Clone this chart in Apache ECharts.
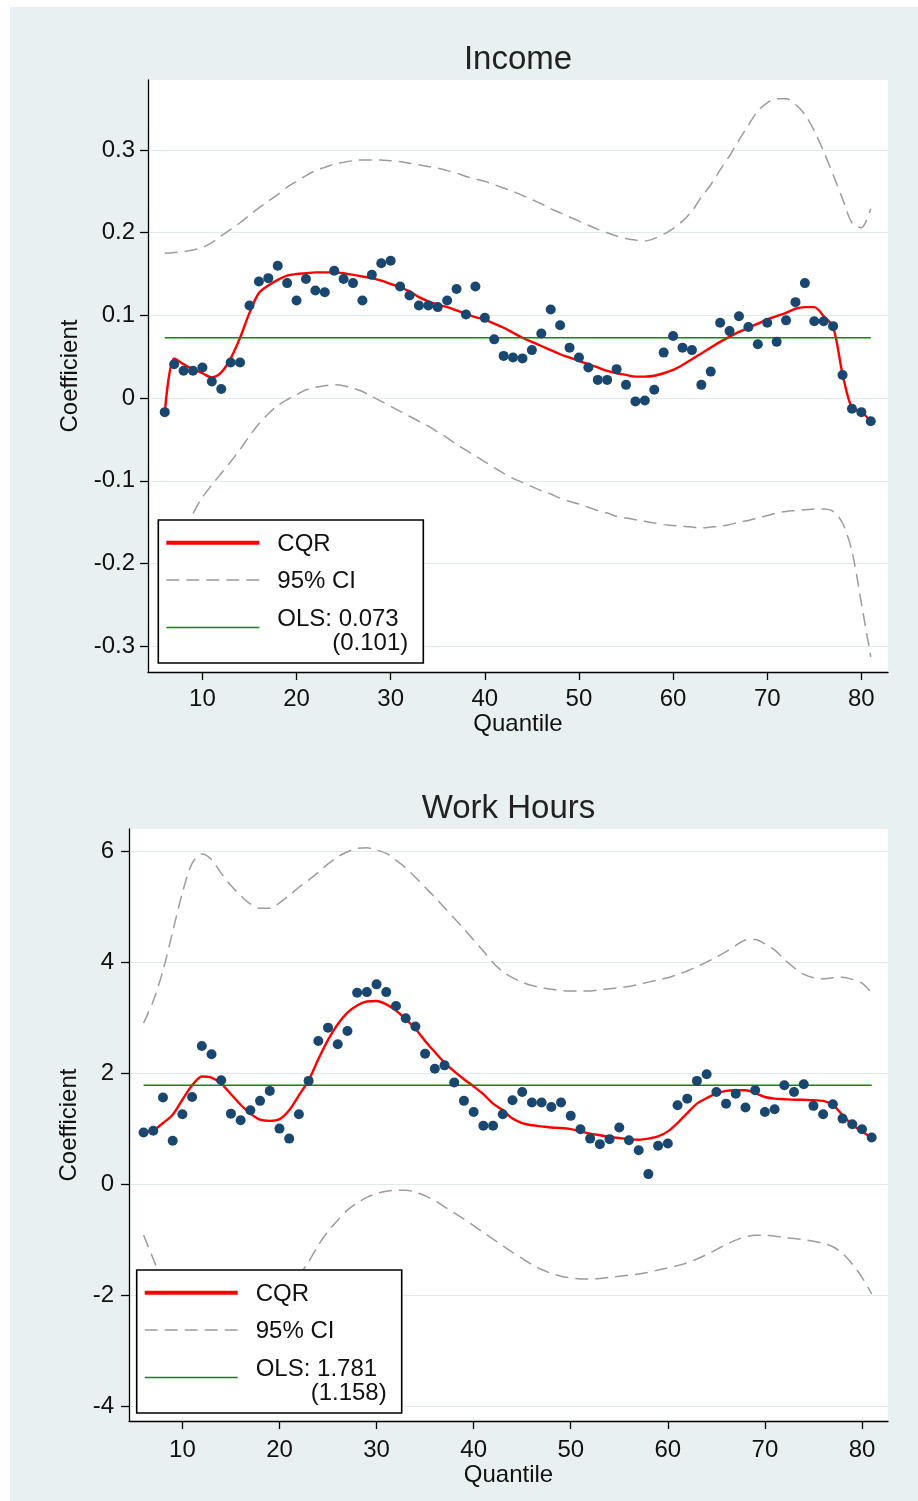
<!DOCTYPE html>
<html><head><meta charset="utf-8">
<script src="https://cdn.jsdelivr.net/npm/echarts@6/dist/echarts.min.js"></script>
<style>
html,body{margin:0;padding:0;background:#fff;}
#panel{position:absolute;left:10px;top:7px;width:908px;height:1494px;background:#E8F0F2;}
#chart{position:absolute;left:0;top:0;width:918px;height:1501px;}
</style></head><body>
<div id="panel"></div><div id="chart"></div>
<script>
// ---------- data ----------
const quantiles = [6,7,8,9,10,11,12,13,14,15,16,17,18,19,20,21,22,23,24,25,26,27,28,29,30,31,32,33,34,35,36,37,38,39,40,41,42,43,44,45,46,47,48,49,50,51,52,53,54,55,56,57,58,59,60,61,62,63,64,65,66,67,68,69,70,71,72,73,74,75,76,77,78,79,80,81];
const xTicks = [10,20,30,40,50,60,70,80];

const incomeTitle = 'Income';
const incomeYTicks = [-0.3,-0.2,-0.1,0,0.1,0.2,0.3];
const incomeOLS = 0.073;
const incomeOLSLabel = 'OLS: 0.073';
const incomeOLSSe = '(0.101)';
const incomeCoef = [
 -0.017,0.041,0.033,0.033,0.037,0.020,0.011,0.043,0.043,0.112,
 0.141,0.145,0.160,0.139,0.118,0.144,0.130,0.128,0.154,0.144,
 0.139,0.118,0.149,0.163,0.166,0.135,0.124,0.112,0.112,0.110,
 0.118,0.132,0.101,0.135,0.097,0.071,0.051,0.049,0.048,0.058,
 0.078,0.107,0.088,0.061,0.049,0.037,0.022,0.022,0.035,0.016,
 -0.004,-0.003,0.010,0.055,0.075,0.061,0.058,0.016,0.032,0.091,
 0.081,0.099,0.086,0.065,0.091,0.068,0.094,0.116,0.139,0.093,
 0.093,0.087,0.028,-0.013,-0.017,-0.028];
const incomeCQR = [
 -0.018,0.048,0.041,0.035,0.030,0.025,0.031,0.048,0.073,0.103,
 0.127,0.136,0.143,0.148,0.150,0.151,0.152,0.152,0.152,0.151,
 0.149,0.147,0.145,0.142,0.138,0.134,0.129,0.122,0.117,0.113,
 0.110,0.106,0.102,0.098,0.095,0.090,0.085,0.079,0.073,0.068,
 0.063,0.058,0.053,0.049,0.045,0.041,0.037,0.033,0.030,0.028,
 0.026,0.026,0.027,0.030,0.034,0.040,0.047,0.054,0.061,0.068,
 0.074,0.080,0.085,0.090,0.095,0.099,0.103,0.108,0.110,0.110,
 0.099,0.086,0.029,-0.012,-0.017,-0.028];
const incomeUpper = [
 0.175,0.176,0.177,0.179,0.182,0.188,0.196,0.204,0.212,0.221,
 0.230,0.238,0.246,0.255,0.262,0.269,0.275,0.279,0.283,0.285,
 0.287,0.288,0.288,0.288,0.287,0.286,0.284,0.282,0.280,0.278,
 0.275,0.272,0.268,0.265,0.262,0.258,0.254,0.250,0.245,0.240,
 0.235,0.229,0.224,0.219,0.214,0.209,0.204,0.200,0.196,0.193,
 0.191,0.190,0.193,0.198,0.205,0.214,0.226,0.243,0.258,0.276,
 0.293,0.312,0.330,0.347,0.357,0.362,0.362,0.355,0.343,0.323,
 0.298,0.270,0.241,0.212,0.206,0.229];
const incomeLower = [
 -0.230,-0.200,-0.170,-0.140,-0.120,-0.105,-0.091,-0.077,-0.062,-0.046,
 -0.031,-0.019,-0.009,-0.002,0.004,0.010,0.013,0.015,0.016,0.015,
 0.012,0.008,0.002,-0.004,-0.010,-0.016,-0.022,-0.028,-0.034,-0.041,
 -0.048,-0.056,-0.063,-0.070,-0.077,-0.084,-0.091,-0.097,-0.102,-0.107,
 -0.112,-0.116,-0.121,-0.125,-0.128,-0.132,-0.136,-0.139,-0.143,-0.145,
 -0.147,-0.149,-0.151,-0.153,-0.154,-0.155,-0.156,-0.157,-0.156,-0.155,
 -0.153,-0.150,-0.148,-0.145,-0.142,-0.139,-0.137,-0.136,-0.135,-0.134,
 -0.134,-0.137,-0.151,-0.185,-0.248,-0.313];

const hoursTitle = 'Work Hours';
const hoursYTicks = [-4,-2,0,2,4,6];
const hoursOLS = 1.781;
const hoursOLSLabel = 'OLS: 1.781';
const hoursOLSSe = '(1.158)';
const hoursCoef = [
 0.93,0.96,1.56,0.78,1.26,1.57,2.49,2.34,1.87,1.27,
 1.15,1.33,1.50,1.68,1.00,0.82,1.26,1.86,2.58,2.82,
 2.52,2.76,3.45,3.46,3.60,3.46,3.21,2.99,2.84,2.35,
 2.08,2.14,1.83,1.50,1.30,1.05,1.05,1.26,1.51,1.66,
 1.47,1.47,1.39,1.47,1.23,0.99,0.82,0.72,0.81,1.02,
 0.79,0.61,0.18,0.69,0.73,1.42,1.54,1.86,1.98,1.66,
 1.45,1.63,1.38,1.69,1.30,1.35,1.78,1.66,1.80,1.41,
 1.26,1.44,1.18,1.08,0.99,0.84];
const hoursCQR = [
 0.93,0.97,1.10,1.25,1.52,1.78,1.94,1.92,1.81,1.62,
 1.43,1.27,1.16,1.14,1.17,1.33,1.60,1.87,2.25,2.60,
 2.88,3.09,3.22,3.29,3.30,3.24,3.13,2.97,2.80,2.58,
 2.38,2.19,2.03,1.89,1.76,1.62,1.45,1.33,1.18,1.10,
 1.06,1.04,1.02,1.01,0.99,0.95,0.91,0.88,0.85,0.83,
 0.81,0.80,0.82,0.86,0.95,1.10,1.28,1.45,1.55,1.63,
 1.68,1.69,1.69,1.64,1.57,1.54,1.53,1.52,1.52,1.51,
 1.50,1.43,1.24,1.07,0.95,0.84];
const hoursUpper = [
 2.90,3.30,3.85,4.55,5.25,5.78,5.95,5.85,5.60,5.38,
 5.20,5.05,4.97,4.97,5.07,5.20,5.35,5.48,5.62,5.77,
 5.90,5.99,6.05,6.06,6.02,5.96,5.84,5.70,5.53,5.35,
 5.17,4.98,4.79,4.60,4.40,4.20,3.99,3.83,3.72,3.64,
 3.58,3.54,3.51,3.49,3.48,3.48,3.48,3.50,3.52,3.54,
 3.56,3.60,3.64,3.68,3.72,3.78,3.84,3.92,4.00,4.09,
 4.19,4.30,4.40,4.41,4.33,4.22,4.05,3.90,3.78,3.72,
 3.70,3.72,3.73,3.69,3.62,3.45];
const hoursLower = [
 -0.92,-1.35,-1.80,-2.20,-2.50,-2.70,-2.80,-2.80,-2.75,-2.65,
 -2.55,-2.45,-2.35,-2.20,-2.05,-1.85,-1.65,-1.40,-1.10,-0.85,
 -0.65,-0.47,-0.34,-0.24,-0.17,-0.13,-0.11,-0.11,-0.15,-0.21,
 -0.30,-0.41,-0.52,-0.63,-0.75,-0.87,-0.99,-1.11,-1.23,-1.34,
 -1.45,-1.54,-1.61,-1.66,-1.69,-1.71,-1.71,-1.70,-1.68,-1.66,
 -1.64,-1.62,-1.59,-1.55,-1.51,-1.47,-1.42,-1.35,-1.27,-1.18,
 -1.09,-1.01,-0.95,-0.92,-0.92,-0.94,-0.96,-0.98,-1.00,-1.03,
 -1.07,-1.13,-1.25,-1.44,-1.68,-1.98];

const legendCQR = 'CQR';
const legendCI = '95% CI';

// ---------- styling ----------
const FONT = 'Liberation Sans, Arial, sans-serif';
const TXT = '#111';
const DOT = '#1A476F';
const RED = '#FF0000';
const GREEN = '#0A8A0A';
const GRAY = '#9C9C9C';
const GRID = '#E1EBEE';
const DASH = [13, 7];

const panels = [
  {title: incomeTitle, coef: incomeCoef, cqr: incomeCQR, up: incomeUpper, lo: incomeLower,
   ols: incomeOLS, olsLabel: incomeOLSLabel, olsSe: incomeOLSSe, yTicks: incomeYTicks,
   grid: {left:148, top:80, width:740, height:592}, xMin:4.22, xMax:82.83, yMin:-0.3312, yMax:0.3846,
   xLabelMargin:15, yLabelMargin:13, xNameGap:36, yNameGap:64, legend:{x:158.3, y:520}},
  {title: hoursTitle, coef: hoursCoef, cqr: hoursCQR, up: hoursUpper, lo: hoursLower,
   ols: hoursOLS, olsLabel: hoursOLSLabel, olsSe: hoursOLSSe, yTicks: hoursYTicks,
   grid: {left:129, top:829, width:759, height:592}, xMin:4.5, xMax:82.68, yMin:-4.27, yMax:6.40,
   xLabelMargin:17, yLabelMargin:15, xNameGap:38, yNameGap:45, legend:{x:136.7, y:1270}}
];

const pairs = arr => quantiles.map((q, i) => [q, arr[i]]);

const option = {
  animation: false,
  grid: [], xAxis: [], yAxis: [], series: [], graphic: {elements: []}
};

panels.forEach((p, k) => {
  option.grid.push(Object.assign({show:true, backgroundColor:'#fff', borderWidth:0}, p.grid));
  option.xAxis.push({
    type:'value', gridIndex:k, min:p.xMin, max:p.xMax,
    name:'Quantile', nameLocation:'middle', nameGap:p.xNameGap,
    nameTextStyle:{fontSize:24, fontFamily:FONT, color:TXT},
    axisLine:{show:true, onZero:false, lineStyle:{color:'#000', width:1.3}},
    axisTick:{show:true, length:8, customValues:xTicks, lineStyle:{color:'#000', width:1.3}},
    axisLabel:{show:true, customValues:xTicks, margin:p.xLabelMargin, fontSize:24, fontFamily:FONT, color:TXT},
    splitLine:{show:false}
  });
  option.yAxis.push({
    type:'value', gridIndex:k, min:p.yMin, max:p.yMax,
    name:'Coefficient', nameLocation:'middle', nameGap:p.yNameGap, nameRotate:90,
    nameTextStyle:{fontSize:24, fontFamily:FONT, color:TXT},
    axisLine:{show:true, onZero:false, lineStyle:{color:'#000', width:1.3}},
    axisTick:{show:true, length:8, customValues:p.yTicks, lineStyle:{color:'#000', width:1.3}},
    axisLabel:{show:true, customValues:p.yTicks, margin:p.yLabelMargin, fontSize:24, fontFamily:FONT, color:TXT},
    splitLine:{show:true, lineStyle:{color:GRID, width:1.2}}
  });
  const common = {xAxisIndex:k, yAxisIndex:k, silent:true, symbol:'none'};
  option.series.push(Object.assign({type:'line', data:pairs(p.up), smooth:0.3, z:2,
    lineStyle:{color:GRAY, width:1.5, type:DASH}}, common));
  option.series.push(Object.assign({type:'line', data:pairs(p.lo), smooth:0.3, z:2,
    lineStyle:{color:GRAY, width:1.5, type:DASH}}, common));
  option.series.push(Object.assign({type:'line', data:pairs(p.cqr), smooth:0.3, z:3,
    lineStyle:{color:RED, width:2.4}}, common));
  option.series.push(Object.assign({type:'line', z:3,
    data:[[quantiles[0], p.ols],[quantiles[quantiles.length-1], p.ols]],
    lineStyle:{color:GREEN, width:1.4}}, common));
  option.series.push({type:'scatter', xAxisIndex:k, yAxisIndex:k, silent:true, z:5,
    data:pairs(p.coef), symbol:'circle', symbolSize:10, itemStyle:{color:DOT, opacity:1}});

  // title
  option.graphic.elements.push({type:'text', z:100, silent:true,
    x: p.grid.left + p.grid.width/2, y: p.grid.top - 20,
    style:{text:p.title, fontSize:33, fontFamily:FONT, fill:'#222', align:'center', verticalAlign:'middle'}});

  // legend box
  const L = p.legend;
  const els = [
    {type:'rect', shape:{x:L.x, y:L.y, width:265, height:143}, style:{fill:'#fff', stroke:'#000', lineWidth:1.6}},
    {type:'line', shape:{x1:L.x+8, y1:L.y+22.7, x2:L.x+101, y2:L.y+22.7}, style:{stroke:RED, lineWidth:4}},
    {type:'line', shape:{x1:L.x+8, y1:L.y+60, x2:L.x+101, y2:L.y+60}, style:{stroke:GRAY, lineWidth:1.6, lineDash:DASH}},
    {type:'line', shape:{x1:L.x+8, y1:L.y+107.5, x2:L.x+101, y2:L.y+107.5}, style:{stroke:GREEN, lineWidth:1.5}},
    {type:'text', x:L.x+119, y:L.y+24, style:{text:legendCQR, fontSize:24, fontFamily:FONT, fill:TXT, align:'left', verticalAlign:'middle'}},
    {type:'text', x:L.x+119, y:L.y+61, style:{text:legendCI, fontSize:24, fontFamily:FONT, fill:TXT, align:'left', verticalAlign:'middle'}},
    {type:'text', x:L.x+119, y:L.y+99, style:{text:p.olsLabel, fontSize:24, fontFamily:FONT, fill:TXT, align:'left', verticalAlign:'middle'}},
    {type:'text', x:L.x+250, y:L.y+123, style:{text:p.olsSe, fontSize:24, fontFamily:FONT, fill:TXT, align:'right', verticalAlign:'middle'}}
  ];
  els.forEach(e => { e.z = 100; e.silent = true; option.graphic.elements.push(e); });
});

const chart = echarts.init(document.getElementById('chart'), null, {renderer:'canvas'});
chart.setOption(option);
</script>
</body></html>
